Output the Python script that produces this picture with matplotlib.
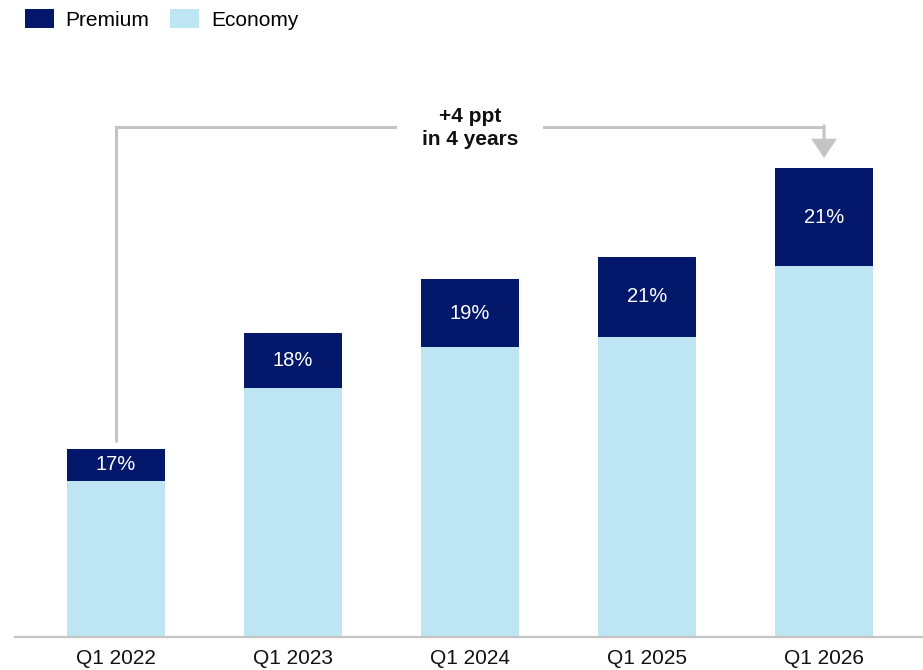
import matplotlib
matplotlib.use("Agg")
import matplotlib.pyplot as plt
from matplotlib.patches import Patch
import numpy as np

plt.rcParams['font.family'] = ['Liberation Sans', 'DejaVu Sans']

# Data
quarters = ["Q1 2022", "Q1 2023", "Q1 2024", "Q1 2025", "Q1 2026"]
totals = [188, 304, 358, 380, 469]          # total volume (index)
premium_share = [17, 18, 19, 21, 21]        # premium share of total, %
series_names = ["Premium", "Economy"]
callout_text = "+4 ppt\nin 4 years"

premium = [t * s / 100 for t, s in zip(totals, premium_share)]
economy = [t - p for t, p in zip(totals, premium)]

premium_color = "#03186B"
economy_color = "#BEE5F4"
line_grey = "#C4C4C4"

W, H = 923, 670
fig = plt.figure(figsize=(W / 100, H / 100), dpi=100)
ax = fig.add_axes([15 / W, 1 - 637 / H, 908 / W, 637 / H])

x = np.arange(len(quarters))
bw = 0.554
ax.bar(x, economy, width=bw, color=economy_color, linewidth=0, zorder=2)
ax.bar(x, premium, width=bw, bottom=economy, color=premium_color, linewidth=0, zorder=2)

for xi, e, p, s in zip(x, economy, premium, premium_share):
    ax.text(xi, e + p / 2, f"{s}%", ha="center", va="center",
            color="white", fontsize=14.5, zorder=3)

ax.set_xlim(-0.571, -0.571 + 908 / 177)
ax.set_ylim(0, 637)

# Callout connector from first bar to last bar
y_line = 510
ax.plot([x[0], x[0], x[-1]], [totals[0] + 7, y_line, y_line],
        color=line_grey, lw=2.2, solid_joinstyle="miter",
        solid_capstyle="butt", zorder=1)
ax.annotate("", xy=(x[-1], totals[-1] + 10), xytext=(x[-1], y_line + 1.1),
            arrowprops=dict(arrowstyle="-|>,head_length=0.6,head_width=0.4",
                            mutation_scale=18, color=line_grey, lw=2.2,
                            shrinkA=0, shrinkB=0, joinstyle="miter"),
            zorder=1)
ax.text(x[2], y_line - 1, callout_text, ha="center", va="center",
        fontsize=15, fontweight="bold", color="#111111", linespacing=1.25,
        bbox=dict(boxstyle="square,pad=0.3", fc="white", ec="none"),
        zorder=2)
# wider white gap around the callout text
ax.add_patch(plt.Rectangle((x[2] - 0.41, y_line - 8), 0.82, 16,
                           fc="white", ec="none", zorder=1.5))

# Axes styling
for side in ["top", "right", "left"]:
    ax.spines[side].set_visible(False)
ax.spines["bottom"].set_color(line_grey)
ax.spines["bottom"].set_linewidth(1.6)
ax.set_yticks([])
ax.set_xticks(x)
ax.set_xticklabels(quarters, fontsize=15, color="#111111")
ax.tick_params(axis="x", length=0, pad=9)

handles = [Patch(facecolor=premium_color, edgecolor="none"),
           Patch(facecolor=economy_color, edgecolor="none")]
fig.legend(handles, series_names, loc="upper left",
           bbox_to_anchor=(25 / W, 1 - 9 / H), ncol=2, frameon=False,
           fontsize=15, handlelength=1.4, handleheight=1.06,
           handletextpad=0.55, columnspacing=1.0, borderpad=0,
           borderaxespad=0)

fig.savefig("out.png", dpi=100)
